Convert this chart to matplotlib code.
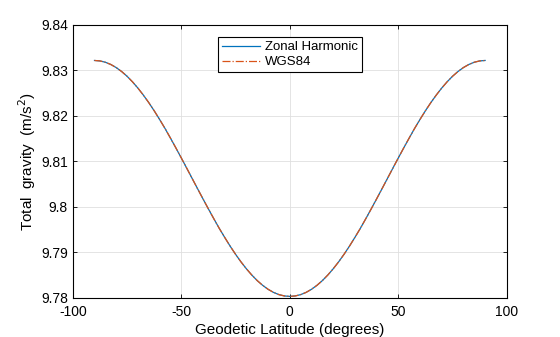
import numpy as np
import matplotlib.pyplot as plt

plt.rcParams['font.family'] = ['Liberation Sans', 'DejaVu Sans']
plt.rcParams['axes.unicode_minus'] = False

# latitude (deg), 0..90 half; the chart is symmetric about the equator
half_lat = [0, 2.5, 5, 7.5, 10, 12.5, 15, 17.5, 20, 22.5, 25, 27.5, 30, 32.5, 35, 37.5, 40, 42.5,
            45, 47.5, 50, 52.5, 55, 57.5, 60, 62.5, 65, 67.5, 70, 72.5, 75, 77.5, 80, 82.5, 85, 87.5, 90]
# gravity (m/s^2)
half_g = [9.78033, 9.78043, 9.78072, 9.78121, 9.78189, 9.78276, 9.78380, 9.78502, 9.78640,
          9.78792, 9.78959, 9.79138, 9.79330, 9.79528, 9.79739, 9.79955, 9.80176, 9.80400,
          9.80626, 9.80852, 9.81076, 9.81297, 9.81513, 9.81724, 9.81923, 9.82114, 9.82293,
          9.82459, 9.82612, 9.82750, 9.82872, 9.82976, 9.83063, 9.83131, 9.83180, 9.83209, 9.83219]

latitude = [-v for v in half_lat[:0:-1]] + half_lat
zonal_gravity = half_g[:0:-1] + half_g
wgs84_gravity = half_g[:0:-1] + half_g

fig = plt.figure(figsize=(5.6, 3.37), dpi=100)
ax = fig.add_axes([0.130, 0.116, 0.775, 0.810])

ax.plot(latitude, zonal_gravity, color='#0072BD', lw=0.9, label='Zonal Harmonic')
ax.plot(latitude, wgs84_gravity, color='#D95319', lw=0.9, ls='-.', label='WGS84')

ax.set_xlim(-100, 100)
ax.set_ylim(9.78, 9.84)
ax.set_xticks([-100, -50, 0, 50, 100])
ax.set_yticks([9.78, 9.79, 9.80, 9.81, 9.82, 9.83, 9.84])
ax.set_yticklabels(['9.78', '9.79', '9.8', '9.81', '9.82', '9.83', '9.84'])
ax.grid(True, color='#dfdfdf', lw=0.6)
ax.tick_params(direction='in', labelsize=10, length=3, width=0.6, top=True, right=True)
ax.tick_params(axis='x', pad=5)
for s in ax.spines.values():
    s.set_linewidth(0.8)

ax.set_xlabel('Geodetic Latitude (degrees)', fontsize=11, labelpad=3)
ax.set_ylabel('Total  gravity  (m/s$^2$)', fontsize=11, labelpad=2)

leg = ax.legend(loc='upper center', bbox_to_anchor=(0.5, 0.97), fontsize=9.5, frameon=True,
                fancybox=False, edgecolor='black', framealpha=1, borderpad=0.3,
                handlelength=2.9, handletextpad=0.4, labelspacing=0.2, borderaxespad=0.3)
leg.get_frame().set_linewidth(0.8)

fig.savefig('out.png', dpi=100)
